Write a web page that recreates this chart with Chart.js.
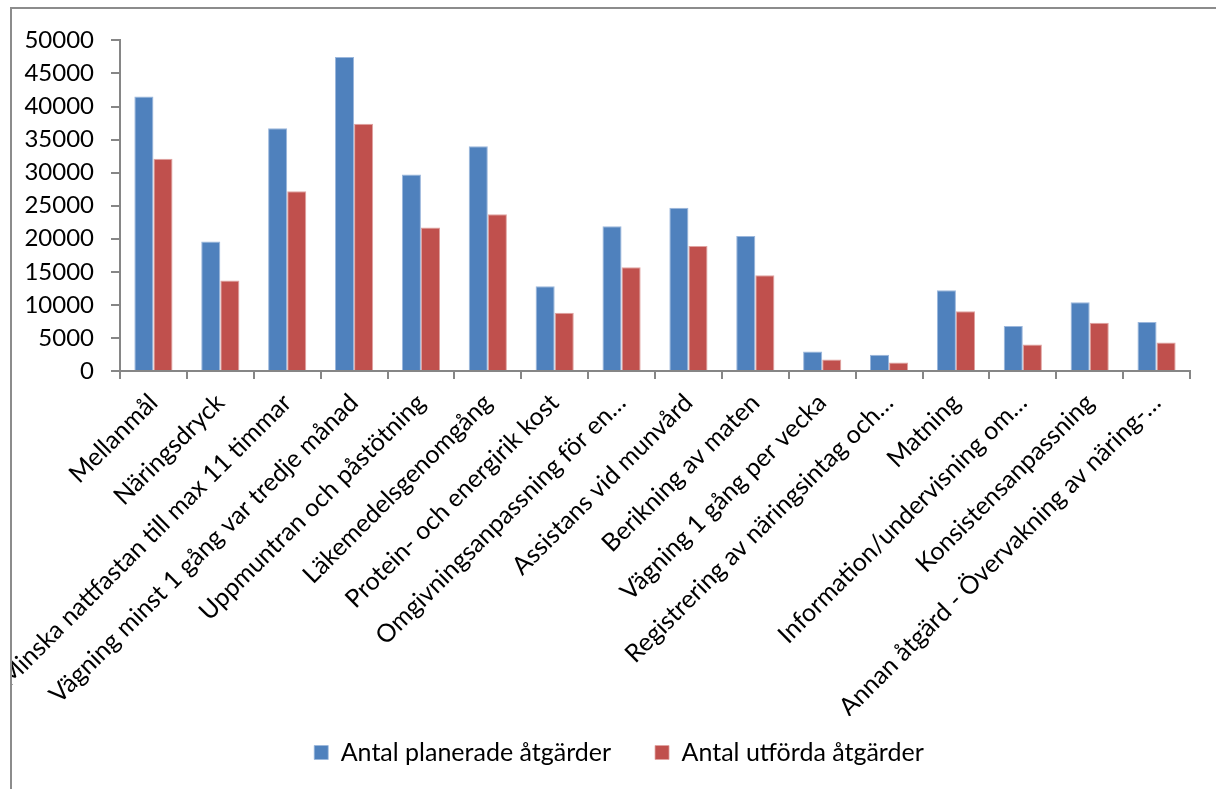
<!DOCTYPE html>
<html>
<head>
<meta charset="utf-8">
<script src="https://cdn.jsdelivr.net/npm/chart.js@4"></script>
<style>
  html, body { margin: 0; padding: 0; background: #fff; overflow: hidden; }
  #frame {
    position: absolute; left: 10px; top: 7px; width: 1206px; height: 820px;
    border-left: 2px solid #8c8c8c; border-top: 2px solid #8c8c8c;
  }
  #wrap { position: absolute; left: 0; top: 0; width: 1204px; height: 800px; }
</style>
</head>
<body>
<div id="frame"><div id="wrap"><canvas id="chart"></canvas></div></div>
<script>
// Categories (as labelled in the original, including truncated ones)
const categories = [
  "Mellanmål",
  "Näringsdryck",
  "Minska nattfastan till max 11 timmar",
  "Vägning minst 1 gång var tredje månad",
  "Uppmuntran och påstötning",
  "Läkemedelsgenomgång",
  "Protein- och energirik kost",
  "Omgivningsanpassning för en…",
  "Assistans vid munvård",
  "Berikning av maten",
  "Vägning 1 gång per vecka",
  "Registrering av näringsintag och…",
  "Matning",
  "Information/undervisning om…",
  "Konsistensanpassning",
  "Annan åtgärd - Övervakning av näring-…"
];

const planned = [41500, 19600, 36700, 47500, 29700, 34000, 12800, 21900, 24700, 20400, 2950, 2450, 12200, 6800, 10400, 7400];
const performed = [32100, 13700, 27200, 37400, 21700, 23700, 8800, 15700, 18900, 14500, 1750, 1300, 9050, 4000, 7300, 4300];

const yTicks = [0, 5000, 10000, 15000, 20000, 25000, 30000, 35000, 40000, 45000, 50000];

const FONT = "Lato";

// nudge the legend to where Excel put it (centred on the frame, just under the labels)
const legendShift = {
  id: "legendShift",
  afterLayout(chart) {
    const lg = chart.legend;
    if (!lg) return;
    lg.left += 18; lg.right += 18;
    lg.top -= 20; lg.bottom -= 20;
  },
};

new Chart(document.getElementById("chart"), {
  type: "bar",
  data: {
    labels: categories,
    datasets: [
      {
        label: "Antal planerade åtgärder",
        data: planned,
        backgroundColor: "#4F81BD",
        borderColor: "#9bb7dc",
        borderWidth: { top: 1, left: 1, right: 1, bottom: 0 },
        categoryPercentage: 0.571,
        barPercentage: 1.0,
      },
      {
        label: "Antal utförda åtgärder",
        data: performed,
        backgroundColor: "#C0504D",
        borderColor: "#e0a3a1",
        borderWidth: { top: 1, left: 1, right: 1, bottom: 0 },
        categoryPercentage: 0.571,
        barPercentage: 1.0,
      },
    ],
  },
  options: {
    responsive: true,
    maintainAspectRatio: false,
    animation: false,
    layout: { padding: { top: 28, right: 26, bottom: 14, left: 0 } },
    plugins: {
      legend: {
        position: "bottom",
        labels: {
          boxWidth: 14,
          boxHeight: 14,
          padding: 44,
          color: "#000",
          font: { family: FONT, size: 25 },
        },
      },
      tooltip: { enabled: false },
    },
    scales: {
      x: {
        grid: {
          display: true,
          drawOnChartArea: false,
          drawTicks: true,
          tickLength: 8,
          color: "#868686",
          lineWidth: 2,
          offset: true,
        },
        border: { color: "#868686", width: 2 },
        ticks: {
          autoSkip: false,
          maxRotation: 45,
          minRotation: 45,
          padding: 9,
          color: "#000",
          font: { family: FONT, size: 25 },
        },
        afterFit: (scale) => { scale.height = 345; },
      },
      y: {
        min: 0,
        max: 50000,
        afterBuildTicks: (scale) => { scale.ticks = yTicks.map((v) => ({ value: v })); },
        grid: {
          display: true,
          drawOnChartArea: false,
          drawTicks: true,
          tickLength: 9,
          color: "#868686",
          lineWidth: 2,
        },
        border: { color: "#868686", width: 2 },
        ticks: {
          padding: 17,
          color: "#000",
          font: { family: FONT, size: 24 },
          callback: (v) => String(v),
        },
        afterFit: (scale) => { scale.width = 108; },
      },
    },
  },
  plugins: [legendShift],
});
</script>
</body>
</html>
